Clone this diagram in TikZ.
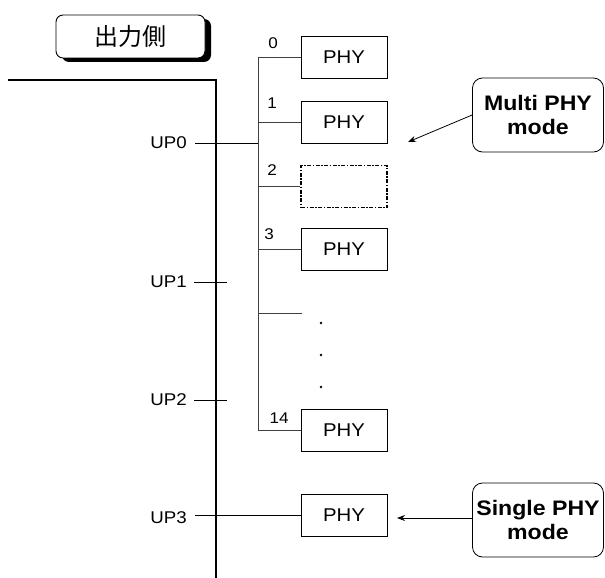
\documentclass[tikz,border=0pt]{standalone}
\usepackage{fontspec}
\setmainfont{Liberation Sans}[FakeStretch=1.1]
\newfontfamily\jpfont{Noto Sans CJK JP}
\usetikzlibrary{arrows.meta,shadows}
\begin{document}
\begin{tikzpicture}[x=1pt,y=-1pt,
  phybox/.style={draw,line width=0.8pt,minimum width=86pt,minimum height=42pt,inner sep=0pt,font=\fontsize{18.5}{20}\selectfont},
  emptybox/.style={draw,line width=1.5pt,dash pattern=on 4pt off 1.5pt on 1.5pt off 1.5pt,minimum width=86pt,minimum height=42pt,inner sep=0pt},
  modebox/.style={draw,line width=0.8pt,rounded corners=10pt,minimum width=131pt,minimum height=74pt,inner sep=0pt,align=center,font=\bfseries\fontsize{21}{24}\selectfont},
  uplbl/.style={anchor=east,inner sep=0pt,font=\fontsize{17}{19}\selectfont},
  numlbl/.style={inner sep=0pt,font=\fontsize{15.5}{17}\selectfont},
  mainline/.style={line width=1.2pt},
  busline/.style={line width=0.9pt,black!75},
  modearrow/.style={line width=0.8pt,-{Stealth[length=8pt,width=6pt]}}]
\useasboundingbox (0,0) rectangle (605,578);
% header box
\node[draw,line width=0.9pt,rounded corners=7pt,fill=white,minimum width=149pt,minimum height=43pt,
  drop shadow={shadow xshift=6pt,shadow yshift=-4pt,opacity=1,fill=black},
  font=\jpfont\fontsize{24}{26}\selectfont] (hdr) at (130.5,36.5) {出力側};
% main frame lines
\coordinate (tl) at (8,80);
\coordinate (tr) at (216,80);
\coordinate (bot) at (216,578);
\draw[mainline] (tl) -- (tr) -- (bot);
% UP labels
\node[uplbl] (up0) at (187,143) {UP0};
\node[uplbl] (up1) at (187,282) {UP1};
\node[uplbl] (up2) at (187,400) {UP2};
\node[uplbl] (up3) at (187,518) {UP3};
% PHY boxes
\node[phybox] (p0) at (344,57) {PHY};
\node[phybox] (p1) at (344,122.5) {PHY};
\node[emptybox] (p2) at (344,186.5) {};
\node[phybox] (p3) at (344,249.5) {PHY};
\node[phybox] (p14) at (344,430) {PHY};
\node[phybox] (ps) at (344,515) {PHY};
% bus
\coordinate (b0) at (258,57);
\coordinate (b1) at (258,122.5);
\coordinate (bup) at (258,143);
\coordinate (b2) at (258,186.5);
\coordinate (b3) at (258,249.5);
\coordinate (bx) at (258,313);
\coordinate (bxe) at (302,313);
\coordinate (b14) at (258,430);
\draw[busline] (b0) -- (b14);
\draw[busline] (b0) -- (p0.west);
\draw[busline] (b1) -- (p1.west);
\draw[busline] (b2) -- (p2.west);
\draw[busline] (b3) -- (p3.west);
\draw[busline] (bx) -- (bxe);
\draw[busline] (b14) -- (p14.west);
% UP connections
\coordinate (up0s) at (195,143);
\coordinate (up1s) at (194,282);
\coordinate (up1e) at (227,282);
\coordinate (up2s) at (194,400);
\coordinate (up2e) at (227,400);
\coordinate (up3s) at (195,515);
\draw[line width=0.9pt] (up0s) -- (bup);
\draw[line width=1pt] (up1s) -- (up1e);
\draw[line width=1pt] (up2s) -- (up2e);
\draw[line width=1pt] (up3s) -- (ps.west);
% numbers
\node[numlbl] (n0) at (273,43) {0};
\node[numlbl] (n1) at (272,103) {1};
\node[numlbl] (n2) at (272,170) {2};
\node[numlbl] (n3) at (269,234) {3};
\node[numlbl] (n14) at (279,418) {14};
% dots
\fill (321,323) circle (1.3pt);
\fill (321,355) circle (1.3pt);
\fill (321,387) circle (1.3pt);
% mode boxes
\node[modebox] (mm) at (538,115) {Multi PHY\\mode};
\node[modebox] (sm) at (538,520) {Single PHY\\mode};
\coordinate (mtip) at (408,142);
\coordinate (stip) at (397,518);
\draw[modearrow] (mm.west) -- (mtip);
\draw[modearrow] (sm.west |- stip) -- (stip);
\end{tikzpicture}
\end{document}
